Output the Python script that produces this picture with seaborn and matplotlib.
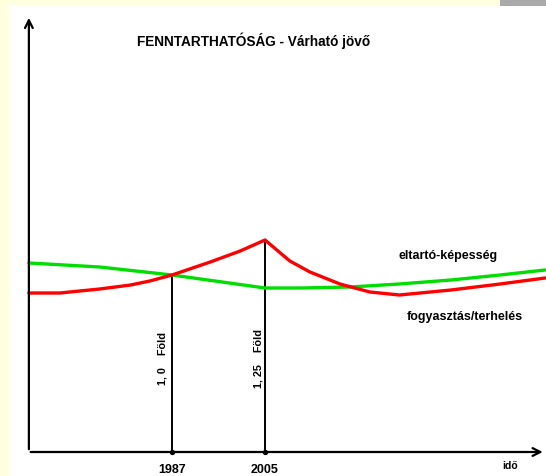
import matplotlib
matplotlib.use("Agg")
import matplotlib.pyplot as plt
import seaborn as sns
import pandas as pd
from matplotlib.patches import Rectangle

sns.set_theme(style="white")
plt.rcParams['font.family'] = ['Liberation Sans', 'DejaVu Sans']
plt.rcParams['text.color'] = 'black'

# data (time in years, level in arbitrary units)
green_years = [1959.3, 1973, 1987, 2005, 2012, 2021.5, 2031, 2041, 2050.5, 2059.2]
green_vals = [189, 185, 177, 164, 164, 165, 168, 172, 177, 182]
red_years = [1959.3, 1965.3, 1973, 1979, 1982.7, 1987, 1994.4, 2000.2, 2005,
             2009.8, 2013.7, 2019.5, 2025.3, 2031, 2041, 2050.5, 2059.2]
red_vals = [159, 159, 163, 167, 171, 177, 190, 201, 212,
            191, 180, 168, 160, 157, 162, 168, 174]
mark_years = [1987, 2005]
mark_tops = [177, 212]
mark_labels = ["1, 0    Föld", "1, 25    Föld"]

green = pd.DataFrame({"ev": green_years, "ertek": green_vals})
red = pd.DataFrame({"ev": red_years, "ertek": red_vals})

fig = plt.figure(figsize=(5.46, 4.77), dpi=100)
fig.patch.set_facecolor('#FFFFE0')
fig.patches.append(Rectangle((10 / 546, 0), 1, 470 / 477, transform=fig.transFigure,
                             facecolor='white', edgecolor='none', zorder=-10))
fig.patches.append(Rectangle((500 / 546, 470 / 477), 46 / 546, 7 / 477, transform=fig.transFigure,
                             facecolor='#A9A9A9', edgecolor='none', zorder=-10))

ax = fig.add_axes([0, 0, 1, 1])
ax.patch.set_alpha(0)

x0 = green_years[0]
# axes with arrows
ax.annotate('', xy=(x0, 437), xytext=(x0, 0), annotation_clip=False,
            arrowprops=dict(arrowstyle='->', lw=1.6, color='black', mutation_scale=14))
ax.annotate('', xy=(2059.3, 0), xytext=(x0 - 0.2, 0), annotation_clip=False,
            arrowprops=dict(arrowstyle='->', lw=1.6, color='black', mutation_scale=14))

# vertical markers
ax.vlines(mark_years, 0, mark_tops, color='black', lw=1.4)
ax.scatter(mark_years, [0, 0], color='black', s=8, zorder=5)
for yr, lab, off in zip(mark_years, mark_labels, [1.8, 1.3]):
    ax.text(yr - off, 94, lab, rotation=90, ha='center', va='center',
            fontsize=7.8, fontweight='bold')
    ax.text(yr, -17, str(yr), ha='center', va='center', fontsize=9, fontweight='bold')

sns.lineplot(data=green, x="ev", y="ertek", ax=ax, color='#00DD00', lw=2.4, legend=False)
sns.lineplot(data=red, x="ev", y="ertek", ax=ax, color='#FF0000', lw=2.4, legend=False)
ax.set_xlim(1953.71, 2059.38)
ax.set_ylim(-24, 453)
ax.axis('off')

ax.text(2030.8, 197, "eltartó-képesség", ha='left', va='center', fontsize=9, fontweight='bold')
ax.text(2032.4, 136, "fogyasztás/terhelés", ha='left', va='center', fontsize=9, fontweight='bold')
ax.text(2052.4, -13, "idő", ha='center', va='center', fontsize=7.5, fontweight='bold')
ax.text(2002.8, 412, "FENNTARTHATÓSÁG - Várható jövő", ha='center', va='center',
        fontsize=9.8, fontweight='bold')

fig.savefig("out.png", dpi=100, facecolor=fig.get_facecolor())
